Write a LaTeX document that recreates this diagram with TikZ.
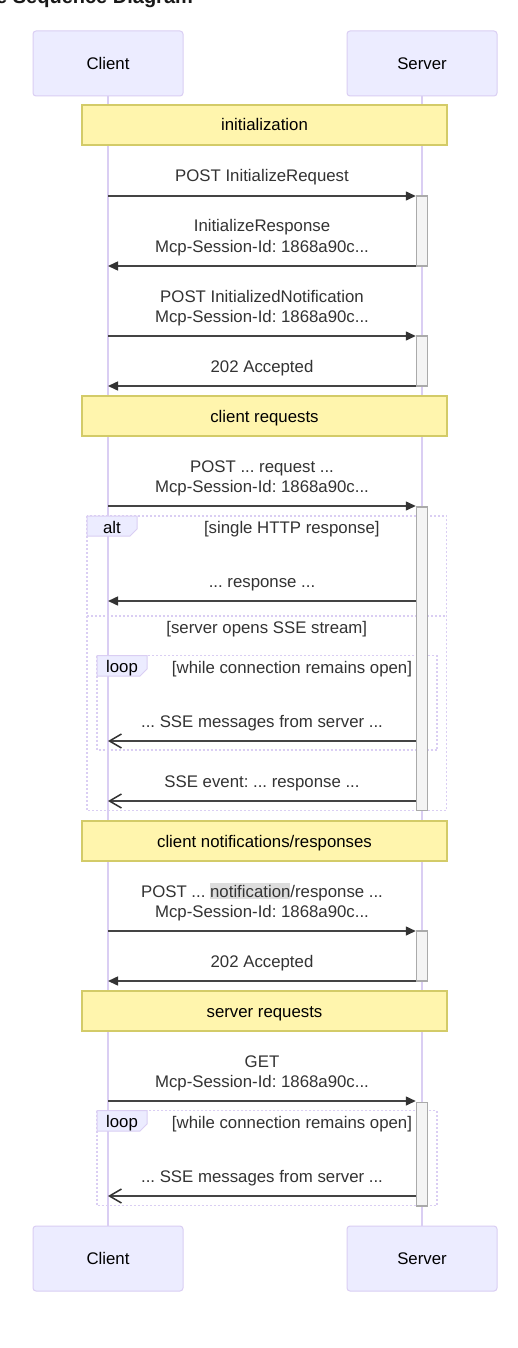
\documentclass[tikz,border=0pt]{standalone}
\usepackage{fontspec}
\setmainfont{Liberation Sans}
\usetikzlibrary{arrows.meta}
\definecolor{actfill}{HTML}{ECECFF}
\definecolor{lav}{HTML}{DACEF3}
\definecolor{notefill}{HTML}{FFF5AD}
\definecolor{notedraw}{HTML}{D3CB68}
\definecolor{txt}{HTML}{333333}
\definecolor{msgline}{HTML}{444444}
\definecolor{actvfill}{HTML}{F4F4F4}
\definecolor{actvdraw}{HTML}{AAAAAA}
\definecolor{hl}{HTML}{DDDDDD}
\frenchspacing
\newcommand{\dfont}{\fontsize{16.8}{20}\selectfont}
\begin{document}
\begin{tikzpicture}[x=1pt,y=-1pt,
  actor/.style={draw=lav, fill=actfill, line width=1pt, rounded corners=3pt,
    minimum width=150pt, minimum height=65pt, inner sep=0pt,
    text height=12pt, text depth=0pt, font=\dfont, text=black},
  life/.style={draw=lav, line width=1.5pt},
  notebox/.style={draw=notedraw, fill=notefill, line width=1.5pt,
    minimum width=365pt, minimum height=40pt, inner sep=0pt,
    text height=12pt, text depth=0pt, font=\dfont, text=black},
  frame/.style={draw=lav, line width=1.5pt, dash pattern=on 2pt off 2pt},
  tab/.style={draw=lav, fill=actfill, line width=1pt},
  lbl/.style={anchor=base, inner sep=0pt, font=\dfont, text=txt},
  tablbl/.style={anchor=base, inner sep=0pt, font=\dfont, text=black},
  actv/.style={draw=actvdraw, fill=actvfill, line width=1.5pt, minimum width=11pt, inner sep=0pt},
  sync/.style={draw=msgline, line width=1.5pt, -{Triangle[length=10pt,width=9pt,fill=txt,color=txt]}},
  async/.style={draw=msgline, line width=1.5pt, -{Straight Barb[length=12pt,width=14pt,color=txt]}}
]
\fill[white] (0,0) rectangle (518,1348);
\useasboundingbox (0,0) rectangle (518,1348);

% title (clipped at the top edge, as in the reference)
\begin{scope}
\clip (0,0) rectangle (518,1348);
\node[anchor=base west, inner sep=0pt, font=\bfseries\fontsize{20}{20}\selectfont, text=black!90] (title) at (-4,4) {e Sequence Diagram};
\end{scope}

% actors
\node[actor] (ct) at (108,63.5) {Client};
\node[actor] (st) at (422,63.5) {Server};
\node[actor] (cb) at (108,1258.5) {Client};
\node[actor] (sb) at (422,1258.5) {Server};

% lifelines
\draw[life] (ct.south) -- (cb.north);
\draw[life] (st.south) -- (sb.north);

% notes
\node[notebox] (n1) at (264.5,125) {initialization};
\node[notebox] (n2) at (264.5,416) {client requests};
\node[notebox] (n3) at (264.5,841) {client notifications/responses};
\node[notebox] (n4) at (264.5,1011) {server requests};

% alt frame
\draw[frame] (87,516) rectangle (446.7,810.7);
\draw[frame] (87,616) -- (446.7,616);
\draw[tab] (87,516) -- (137,516) -- (137,529) -- (130,536) -- (87,536) -- cycle;
\node[tablbl] (altl) at (112,533) {alt};
\node[lbl] (alt1) at (291.8,533) {[single HTTP response]};
\node[lbl] (alt2) at (266.8,633) {[server opens SSE stream]};

% loop 1
\draw[frame] (97,655.5) rectangle (437,750);
\draw[tab] (97,655.5) -- (147,655.5) -- (147,669) -- (140,676) -- (97,676) -- cycle;
\node[tablbl] (loop1l) at (122,672) {loop};
\node[lbl] (loop1t) at (292,673) {[while connection remains open]};

% loop 2
\draw[frame] (97,1110.5) rectangle (437,1205.7);
\draw[tab] (97,1110.5) -- (147,1110.5) -- (147,1124) -- (140,1131) -- (97,1131) -- cycle;
\node[tablbl] (loop2l) at (122,1127) {loop};
\node[lbl] (loop2t) at (292,1128) {[while connection remains open]};

% activations
\node[actv, minimum height=70pt] (a1) at (422,231) {};
\node[actv, minimum height=50pt] (a2) at (422,361) {};
\node[actv, minimum height=303.5pt] (a3) at (422,658.9) {};
\node[actv, minimum height=50pt] (a4) at (422,956) {};
\node[actv, minimum height=103.5pt] (a5) at (422,1154) {};

% message anchor points on the client lifeline
\coordinate (m1) at (108,196);
\coordinate (m2) at (108,266);
\coordinate (m3) at (108,336);
\coordinate (m4) at (108,386);
\coordinate (m5) at (108,506);
\coordinate (m6) at (108,601);
\coordinate (m7) at (108,741);
\coordinate (m8) at (108,801);
\coordinate (m9) at (108,931);
\coordinate (m10) at (108,981);
\coordinate (m11) at (108,1101);
\coordinate (m12) at (108,1196);

% messages
\draw[sync] (m1) -- (m1 -| a1.west);
\node[lbl] (t1) at (262,182) {POST InitializeRequest};

\draw[sync] (m2 -| a1.west) -- (m2);
\node[lbl] (t2a) at (262,232) {InitializeResponse};
\node[lbl] (t2b) at (262,252) {Mcp-Session-Id: 1868a90c...};

\draw[sync] (m3) -- (m3 -| a2.west);
\node[lbl] (t3a) at (262,302) {POST InitializedNotification};
\node[lbl] (t3b) at (262,322) {Mcp-Session-Id: 1868a90c...};

\draw[sync] (m4 -| a2.west) -- (m4);
\node[lbl] (t4) at (262,372) {202 Accepted};

\draw[sync] (m5) -- (m5 -| a3.west);
\node[lbl] (t5a) at (262,472) {POST ... request ...};
\node[lbl] (t5b) at (262,492) {Mcp-Session-Id: 1868a90c...};

\draw[sync] (m6 -| a3.west) -- (m6);
\node[lbl] (t6) at (262,587) {... response ...};

\draw[async] (m7 -| a3.west) -- (m7);
\node[lbl] (t7) at (262,727) {... SSE messages from server ...};

\draw[async] (m8 -| a3.west) -- (m8);
\node[lbl] (t8) at (262,787) {SSE event: ... response ...};

\draw[sync] (m9) -- (m9 -| a4.west);
\node[lbl] (t9a) at (262,897) {POST ... {\setlength{\fboxsep}{0pt}\colorbox{hl}{\rule[-2pt]{0pt}{16pt}notification}}/response ...};
\node[lbl] (t9b) at (262,917) {Mcp-Session-Id: 1868a90c...};

\draw[sync] (m10 -| a4.west) -- (m10);
\node[lbl] (t10) at (262,967) {202 Accepted};

\draw[sync] (m11) -- (m11 -| a5.west);
\node[lbl] (t11a) at (262,1067) {GET};
\node[lbl] (t11b) at (262,1087) {Mcp-Session-Id: 1868a90c...};

\draw[async] (m12 -| a5.west) -- (m12);
\node[lbl] (t12) at (262,1182) {... SSE messages from server ...};
\end{tikzpicture}
\end{document}
